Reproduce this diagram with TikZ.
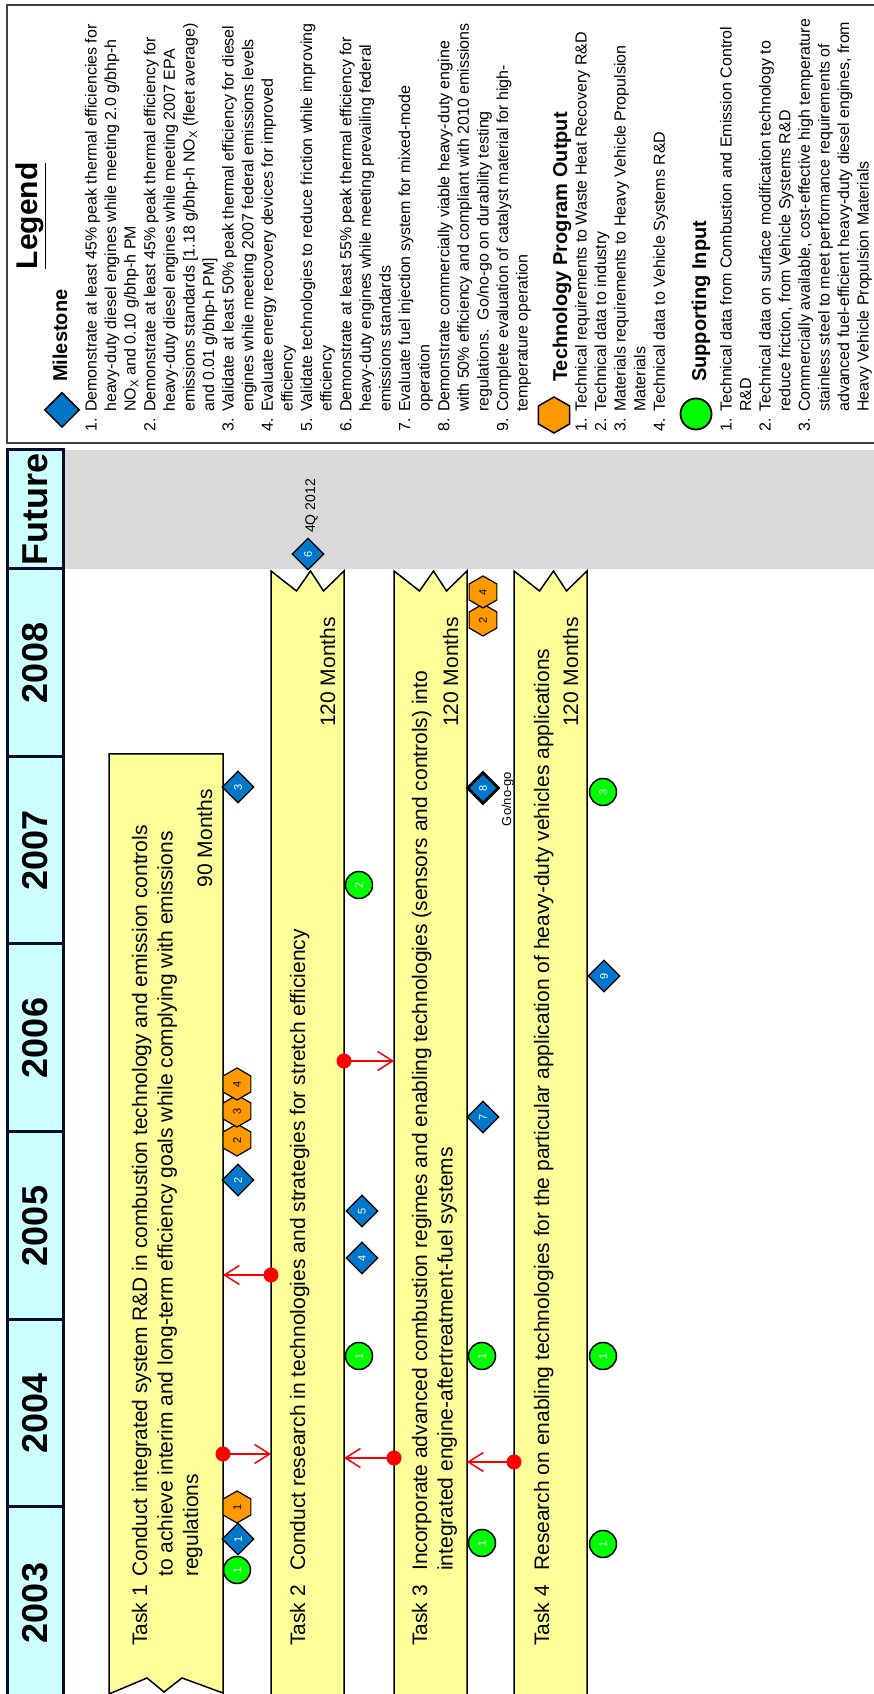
\documentclass[tikz,border=0pt]{standalone}
\usepackage{fontspec}
\setmainfont{Liberation Sans}
\usetikzlibrary{shapes.geometric,arrows.meta}
\definecolor{bandyellow}{HTML}{FFFF99}
\definecolor{yearcyan}{HTML}{CCFFFF}
\definecolor{futuregrey}{HTML}{D9D9D9}
\definecolor{msblue}{HTML}{0077C8}
\definecolor{tporange}{HTML}{FF9900}
\definecolor{sigreen}{HTML}{00FF00}
\definecolor{framegrey}{HTML}{404040}
\definecolor{yearnavy}{HTML}{0A0A30}
\newcommand\fsz[2]{\fontsize{#1}{#2}\selectfont}
\tikzset{
  yearcell/.style={draw=yearnavy, line width=3pt, fill=yearcyan, inner sep=0pt, minimum height=56pt, font=\fsz{36}{40}\bfseries},
  bandshape/.style={draw=black, line width=1.5pt, fill=bandyellow, line join=miter},
  tasktxt/.style={inner sep=0pt, anchor=base west, font=\fsz{21}{25.5}},
  msd/.style={diamond, draw=black, line width=1.2pt, fill=msblue, minimum width=32pt, minimum height=32pt, inner sep=0pt, text=white, font=\fsz{11}{12}},
  tph/.style={regular polygon, regular polygon sides=6, draw=black, line width=1.2pt, fill=tporange, minimum size=32pt, inner sep=0pt, text=black, font=\fsz{11}{12}},
  sic/.style={circle, draw=black, line width=1.5pt, fill=sigreen, minimum size=27pt, inner sep=0pt, text=white, font=\fsz{11}{12}},
  depdot/.style={circle, fill=red, minimum size=15pt, inner sep=0pt},
  deparrow/.style={draw=red, line width=1.5pt, -{Straight Barb[length=15pt,width=19pt]}},
  hd/.style={anchor=base west, inner sep=0pt, font=\fsz{20}{24}\bfseries},
  lnum/.style={anchor=base west, inner sep=0pt, font=\fsz{16}{19.6}},
  litem/.style={anchor=base west, inner sep=0pt, font=\fsz{16}{19.6}},
  smalllab/.style={inner sep=0pt, font=\fsz{14}{16}},
}
\newcommand\itembox[1]{\parbox[t]{400pt}{\raggedright #1}}
\begin{document}
\begin{tikzpicture}
\begin{scope}[x=1pt,y=-1pt,rotate=90,transform shape]
\useasboundingbox (0,0) rectangle (1694,873);
\fill[white] (0,0) rectangle (1694,873);

% future grey region
\fill[futuregrey] (1125,63) rectangle (1244,880);

% year header
\node[yearcell, minimum width=192pt] (y2003) at (91,35) {2003};
\node[yearcell, minimum width=187pt] (y2004) at (280.5,35) {2004};
\node[yearcell, minimum width=188pt] (y2005) at (468,35) {2005};
\node[yearcell, minimum width=188pt] (y2006) at (656,35) {2006};
\node[yearcell, minimum width=187pt] (y2007) at (843.5,35) {2007};
\node[yearcell, minimum width=188pt] (y2008) at (1031,35) {2008};
\node[yearcell, minimum width=119pt] (yfut) at (1184.5,35) {Future};

% task bands
\draw[bandshape] (0,109) -- (940,109) -- (940,223) -- (1,223) -- (16,182) -- (2,164) -- (16,147) -- cycle;
\draw[bandshape] (-5,271) -- (1123,271) -- (1103,296.5) -- (1123,310.5) -- (1103,323.5) -- (1123,344) -- (-5,344) -- cycle;
\draw[bandshape] (-5,394) -- (1123,394) -- (1103,419.5) -- (1123,433.5) -- (1103,446.5) -- (1123,467) -- (-5,467) -- cycle;
\draw[bandshape] (-5,514) -- (1123,514) -- (1103,539.5) -- (1123,553.5) -- (1103,566.5) -- (1123,587) -- (-5,587) -- cycle;

% task texts
\node[tasktxt] (t1lab) at (48,147) {Task 1};
\node[tasktxt] (t1txt) at (117,147) {\parbox[t]{800pt}{\raggedright Conduct integrated system R\&D in combustion technology and emission controls\\to achieve interim and long-term efficiency goals while complying with emissions\\regulations}};
\node[tasktxt, anchor=base east] (t1m) at (905,212) {90 Months};

\node[tasktxt] (t2lab) at (48,305) {Task 2};
\node[tasktxt] (t2txt) at (123,305) {Conduct research in technologies and strategies for stretch efficiency};
\node[tasktxt, anchor=base east] (t2m) at (1077,335) {120 Months};

\node[tasktxt] (t3lab) at (48,427) {Task 3};
\node[tasktxt] (t3txt) at (123,427) {\parbox[t]{960pt}{\raggedright Incorporate advanced combustion regimes and enabling technologies (sensors and controls) into\\integrated engine-aftertreatment-fuel systems}};
\node[tasktxt, anchor=base east] (t3m) at (1077,458) {120 Months};

\node[tasktxt] (t4lab) at (48,549) {Task 4};
\node[tasktxt] (t4txt) at (123,549) {Research on enabling technologies for the particular application of heavy-duty vehicles applications};
\node[tasktxt, anchor=base east] (t4m) at (1077,578) {120 Months};

% dependency arrows
\node[depdot] (d1) at (240,223) {};
\coordinate (d1e) at (240,271);
\draw[deparrow] (d1.center) -- (d1e);
\node[depdot] (d2) at (419,271) {};
\coordinate (d2e) at (419,223);
\draw[deparrow] (d2.center) -- (d2e);
\node[depdot] (d3) at (236,394) {};
\coordinate (d3e) at (236,344);
\draw[deparrow] (d3.center) -- (d3e);
\node[depdot] (d4) at (633,344) {};
\coordinate (d4e) at (633,394);
\draw[deparrow] (d4.center) -- (d4e);
\node[depdot] (d5) at (232,514) {};
\coordinate (d5e) at (232,467);
\draw[deparrow] (d5.center) -- (d5e);

% task 1 lane markers
\node[sic] (a1g1) at (124,237) {1};
\node[msd] (a1m1) at (155,238) {1};
\node[tph] (a1p1) at (187,237) {1};
\node[msd] (a1m2) at (514,238) {2};
\node[tph] (a1p2) at (554,237) {2};
\node[tph] (a1p3) at (583,237) {3};
\node[tph] (a1p4) at (610,237) {4};
\node[msd] (a1m3) at (907,238) {3};

% task 2 lane markers
\node[sic] (a2g1) at (338,359) {1};
\node[msd] (a2m4) at (436,362) {4};
\node[msd] (a2m5) at (483,362) {5};
\node[sic] (a2g2) at (809,359) {2};
\node[msd] (a2m6) at (1140,308) {6};
\node[smalllab, anchor=base west] (a2m6lab) at (1161,315) {4Q 2012};

% task 3 lane markers
\node[sic] (a3g1) at (151,482) {1};
\node[sic] (a3g1b) at (338,482) {1};
\node[msd] (a3m7) at (577,483) {7};
\node[msd, line width=2.8pt] (a3m8) at (906,483) {8};
\node[inner sep=0pt, font=\fsz{13}{15}, anchor=base] (a3m8lab) at (895,511) {Go/no-go};
\node[tph] (a3p2) at (1074,483) {2};
\node[tph] (a3p4) at (1102,483) {4};

% task 4 lane markers
\node[sic] (a4g1) at (150,603) {1};
\node[sic] (a4g1b) at (338,603) {1};
\node[msd] (a4m9) at (718,604) {9};
\node[sic] (a4g3) at (902,603) {3};

% legend
\draw[draw=framegrey, line width=2pt] (1251,7) rectangle (1689,880);
\node[inner sep=0pt, anchor=base, font=\fsz{30}{34}\bfseries] (lgd) at (1478,37) {\underline{Legend}};

\node[msd, minimum width=35pt, minimum height=35pt, line width=1.5pt] (lgms) at (1284,62) {};
\node[hd] (lgmsh) at (1312,67) {Milestone};
\node[lnum] (n1) at (1262,96.5) {1.};
\node[litem] (i1) at (1282,96.5) {\itembox{Demonstrate at least 45\% peak thermal efficiencies for\\heavy-duty diesel engines while meeting 2.0 g/bhp-h\\NO\textsubscript{X} and 0.10 g/bhp-h PM}};
\node[lnum] (n2) at (1262,155.3) {2.};
\node[litem] (i2) at (1282,155.3) {\itembox{Demonstrate at least 45\% peak thermal efficiency for\\heavy-duty diesel engines while meeting 2007 EPA\\emissions standards [1.18 g/bhp-h NO\textsubscript{X} (fleet average)\\and 0.01 g/bhp-h PM]}};
\node[lnum] (n3) at (1262,233.7) {3.};
\node[litem] (i3) at (1282,233.7) {\itembox{Validate at least 50\% peak thermal efficiency for diesel\\engines while meeting 2007 federal emissions levels}};
\node[lnum] (n4) at (1262,272.9) {4.};
\node[litem] (i4) at (1282,272.9) {\itembox{Evaluate energy recovery devices for improved\\efficiency}};
\node[lnum] (n5) at (1262,312.1) {5.};
\node[litem] (i5) at (1282,312.1) {\itembox{Validate technologies to reduce friction while improving\\efficiency}};
\node[lnum] (n6) at (1262,351.3) {6.};
\node[litem] (i6) at (1282,351.3) {\itembox{Demonstrate at least 55\% peak thermal efficiency for\\heavy-duty engines while meeting prevailing federal\\emissions standards}};
\node[lnum] (n7) at (1262,410.1) {7.};
\node[litem] (i7) at (1282,410.1) {\itembox{Evaluate fuel injection system for mixed-mode\\operation}};
\node[lnum] (n8) at (1262,449.3) {8.};
\node[litem] (i8) at (1282,449.3) {\itembox{Demonstrate commercially viable heavy-duty engine\\with 50\% efficiency and compliant with 2010 emissions\\regulations.\ \ Go/no-go on durability testing}};
\node[lnum] (n9) at (1262,508.1) {9.};
\node[litem] (i9) at (1282,508.1) {\itembox{Complete evaluation of catalyst material for high-\\temperature operation}};

\node[tph, minimum size=36pt, line width=1.5pt] (lgtp) at (1279,554) {};
\node[hd] (lgtph) at (1312,567) {Technology Program Output};
\node[lnum] (tn1) at (1262,586.5) {1.};
\node[litem] (ti1) at (1282,586.5) {Technical requirements to Waste Heat Recovery R\&D};
\node[lnum] (tn2) at (1262,606.1) {2.};
\node[litem] (ti2) at (1282,606.1) {Technical data to industry};
\node[lnum] (tn3) at (1262,625.7) {3.};
\node[litem] (ti3) at (1282,625.7) {\itembox{Materials requirements to Heavy Vehicle Propulsion\\Materials}};
\node[lnum] (tn4) at (1262,664.9) {4.};
\node[litem] (ti4) at (1282,664.9) {Technical data to Vehicle Systems R\&D};

\node[sic, minimum size=31pt, line width=1.8pt] (lgsi) at (1280,696) {};
\node[hd] (lgsih) at (1312,706) {Supporting Input};
\node[lnum] (sn1) at (1262,731.5) {1.};
\node[litem] (si1) at (1282,731.5) {\itembox{Technical data from Combustion and Emission Control\\R\&D}};
\node[lnum] (sn2) at (1262,770.7) {2.};
\node[litem] (si2) at (1282,770.7) {\itembox{Technical data on surface modification technology to\\reduce friction, from Vehicle Systems R\&D}};
\node[lnum] (sn3) at (1262,809.9) {3.};
\node[litem] (si3) at (1282,809.9) {\itembox{Commercially available, cost-effective high temperature\\stainless steel to meet performance requirements of\\advanced fuel-efficient heavy-duty diesel engines, from\\Heavy Vehicle Propulsion Materials}};
\end{scope}
\end{tikzpicture}
\end{document}
